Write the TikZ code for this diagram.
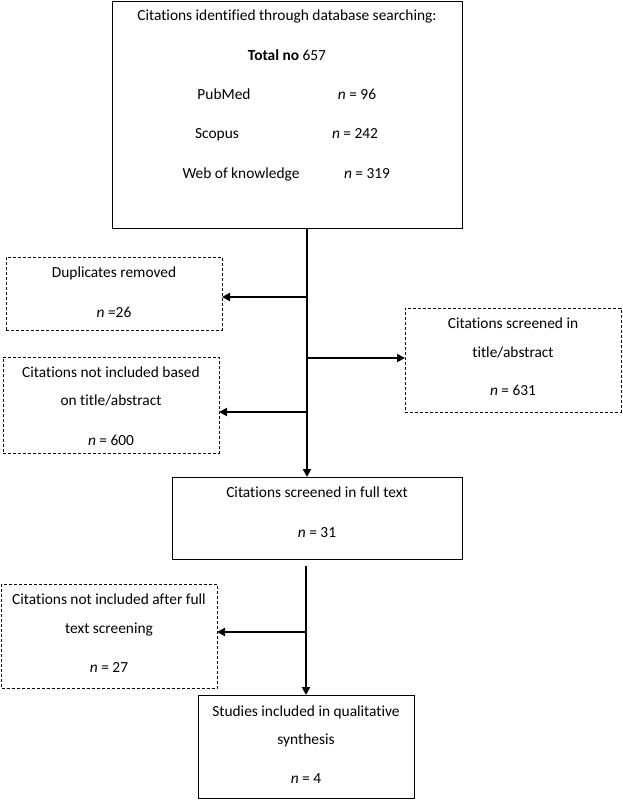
\documentclass[tikz,border=0pt]{standalone}
\usepackage{fontspec}
\setmainfont[Ligatures=NoCommon]{Carlito}
\usetikzlibrary{arrows.meta}
\begin{document}
\begin{tikzpicture}[x=1pt,y=-1pt,
  solidbox/.style={draw, line width=1pt, inner sep=0pt, outer sep=0pt},
  dashbox/.style={draw, line width=0.9pt, dash pattern=on 3pt off 2pt, inner sep=0pt, outer sep=0pt},
  txt/.style={anchor=base, font=\fontsize{15.4}{18}\selectfont, inner sep=0pt},
  arr/.style={line width=2.2pt, -{Triangle[length=8pt,width=8pt]}},
  ]
\useasboundingbox (0,0) rectangle (622,800);
% boxes
\node[solidbox, minimum width=350, minimum height=226] (top) at (287,115) {};
\node[dashbox, minimum width=216, minimum height=73] (dup) at (114,293.5) {};
\node[dashbox, minimum width=216, minimum height=96] (notinc) at (111,405) {};
\node[dashbox, minimum width=216, minimum height=104] (screen) at (513,360) {};
\node[solidbox, minimum width=290, minimum height=82] (full) at (317,518) {};
\node[dashbox, minimum width=215.5, minimum height=104] (notfull) at (109.25,636) {};
\node[solidbox, minimum width=216, minimum height=103] (studies) at (306,746.5) {};
% texts
\node[txt] (ta) at (287,21) {Citations identified through database searching:};
\node[txt] (tb) at (287,60) {\textbf{Total no} 657};
\node[txt] (tc) at (224,99) {PubMed};
\node[txt] (td) at (357,99) {\textit{n} = 96};
\node[txt] (te) at (217,138) {Scopus};
\node[txt] (tf) at (355,138) {\textit{n} = 242};
\node[txt] (tg) at (241,178) {Web of knowledge};
\node[txt] (th) at (367,178) {\textit{n} = 319};
\node[txt] (da) at (114,277) {Duplicates removed};
\node[txt] (db) at (114,317) {\textit{n} =26};
\node[txt] (na) at (111,377) {Citations not included based};
\node[txt] (nb) at (111,405) {on title/abstract};
\node[txt] (nc) at (111,445) {\textit{n} = 600};
\node[txt] (sa) at (513,328) {Citations screened in};
\node[txt] (sb) at (513,357) {title/abstract};
\node[txt] (sc) at (513,395) {\textit{n} = 631};
\node[txt] (fa) at (317,497) {Citations screened in full text};
\node[txt] (fb) at (317,537) {\textit{n} = 31};
\node[txt] (ma) at (109,604) {Citations not included after full};
\node[txt] (mb) at (109,633) {text screening};
\node[txt] (mc) at (109,672) {\textit{n} = 27};
\node[txt] (qa) at (306,716) {Studies included in qualitative};
\node[txt] (qb) at (306,744) {synthesis};
\node[txt] (qc) at (306,783) {\textit{n} = 4};
% connectors
\coordinate (t0) at (307,228);
\coordinate (j1) at (307,297);
\coordinate (j2) at (307,358);
\coordinate (j3) at (307,412);
\coordinate (b0) at (306,566);
\coordinate (j4) at (306,632);
\draw[arr] (t0) -- (t0 |- full.north);
\draw[arr] (j1) -- (j1 -| dup.east);
\draw[arr] (j2) -- (j2 -| screen.west);
\draw[arr] (j3) -- (j3 -| notinc.east);
\draw[arr] (b0) -- (studies.north);
\draw[arr] (j4) -- (j4 -| notfull.east);
\end{tikzpicture}
\end{document}
